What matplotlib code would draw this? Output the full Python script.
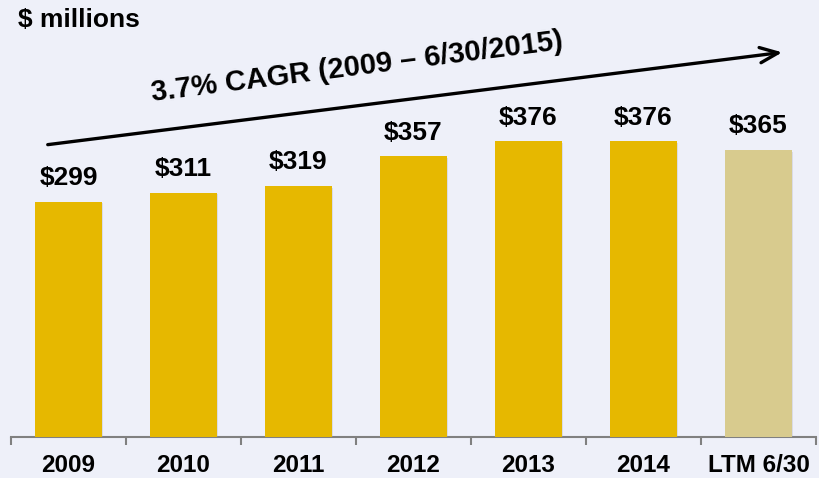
import matplotlib
matplotlib.use("Agg")
import matplotlib.pyplot as plt
import matplotlib.patheffects as pe

categories = ["2009", "2010", "2011", "2012", "2013", "2014", "LTM 6/30"]
values = [299, 311, 319, 357, 376, 376, 365]
labels = ["$299", "$311", "$319", "$357", "$376", "$376", "$365"]
colors = ["#E6B800"] * 6 + ["#D8CB8E"]
bg = "#EEF0F9"

W, H = 819, 478
fig = plt.figure(figsize=(W / 100, H / 100), dpi=100, facecolor=bg)
ax = fig.add_axes([11 / W, (H - 437) / H, (816 - 11) / W, 437 / H])
ax.set_facecolor(bg)
ax.set_xlim(-0.5, 6.5)
ax.set_ylim(0, 437 / (235 / 299))

bars = ax.bar(range(len(values)), values, width=0.58, color=colors, zorder=3)
for b in bars:
    b.set_path_effects([pe.SimplePatchShadow(offset=(1, -1), shadow_rgbFace="#a0a0b0", alpha=0.25), pe.Normal()])

for i, (v, lab) in enumerate(zip(values, labels)):
    ax.annotate(lab, (i, v), xytext=(0, 8.5), textcoords="offset points",
                ha="center", va="bottom", fontsize=19, fontweight="bold",
                family="Liberation Sans", color="black")

for s in ["top", "right", "left"]:
    ax.spines[s].set_visible(False)
ax.spines["bottom"].set_color("#808080")
ax.spines["bottom"].set_linewidth(1.5)
ax.set_yticks([])
ax.set_xticks([x - 0.5 for x in range(8)], minor=False)
ax.set_xticklabels([])
ax.tick_params(axis="x", length=6, width=1.5, color="#808080")
ax.set_xticks(range(len(categories)), minor=True)
ax.set_xticklabels(categories, minor=True, fontsize=17.5, fontweight="bold", family="Liberation Sans")
ax.tick_params(axis="x", which="minor", length=0, pad=12)

fig.text(18 / W, 1 - 20 / H, "$ millions", fontsize=19, fontweight="bold",
         family="Liberation Sans", va="center", ha="left")

ax.annotate("", xy=(785, H - 52), xytext=(45, H - 145),
            xycoords="figure pixels", textcoords="figure pixels",
            arrowprops=dict(arrowstyle="->,head_length=1.3,head_width=0.55", lw=2.4, color="black"))
fig.text(357 / W, 1 - 67 / H, "3.7% CAGR (2009 \u2013 6/30/2015)", fontsize=21,
         fontweight="bold", family="Liberation Sans", rotation=7.2,
         ha="center", va="center", rotation_mode="anchor")

fig.savefig("out.png", dpi=100, facecolor=bg)
